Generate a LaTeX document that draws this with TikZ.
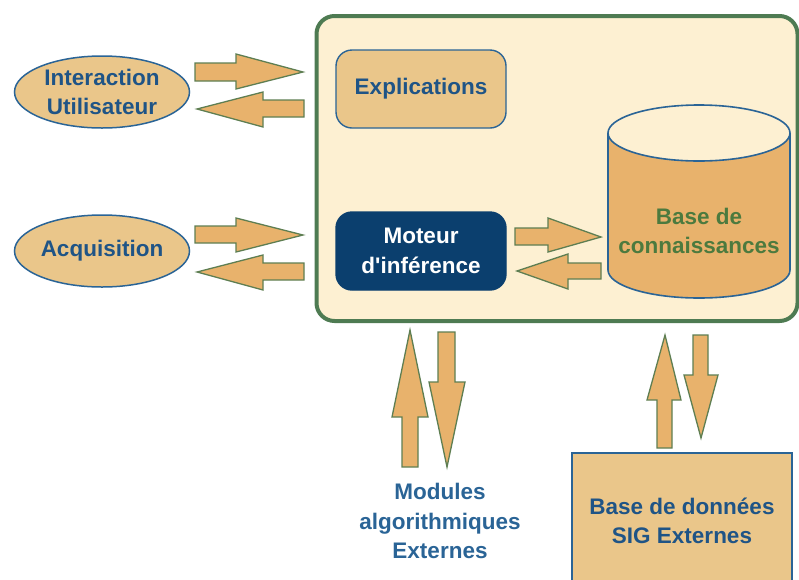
\documentclass[tikz,border=0pt]{standalone}
\usepackage{fontspec}
\setmainfont{Liberation Sans}
\usetikzlibrary{shapes.geometric}
\definecolor{boxbg}{HTML}{FDF0D2}
\definecolor{boxline}{HTML}{4E7B52}
\definecolor{tan}{HTML}{EAC68A}
\definecolor{orng}{HTML}{E8B26C}
\definecolor{navy}{HTML}{0B3F6E}
\definecolor{tblue}{HTML}{1F5486}
\definecolor{lblue}{HTML}{2A6496}
\definecolor{tgreen}{HTML}{4C7A3E}
\definecolor{arline}{HTML}{5E7E52}
\tikzset{
  txt/.style={font=\fontsize{22.5}{29.5}\selectfont\bfseries, align=center},
  ell/.style={ellipse, draw=lblue, line width=1.5pt, fill=tan, minimum width=175pt, minimum height=72pt, inner sep=0pt, txt, text=tblue},
  rbox/.style={rounded corners=16pt, draw=lblue, line width=1.4pt, minimum width=170pt, minimum height=78pt, inner sep=0pt, txt},
  barrow/.style={fill=orng, draw=arline, line width=1.3pt, line join=miter}
}
\begin{document}
\begin{tikzpicture}[x=1pt,y=-1pt]
\useasboundingbox (0,0) rectangle (799,579);
% main container
\node[draw=boxline, fill=boxbg, line width=4pt, rounded corners=18pt, minimum width=481pt, minimum height=305pt, inner sep=0pt] (main) at (557,168.5) {};
% left ellipses
\node[ell] (inter) at (102,92) {Interaction\\Utilisateur};
\node[ell] (acq) at (102,251) {Acquisition};
% inner boxes
\node[rbox, fill=tan, text=tblue] (expl) at (421,89) {Explications};
\node[rbox, fill=navy, draw=navy, text=white] (mot) at (421,251) {Moteur\\d\textquotesingle inférence};
% cylinder
\fill[orng] (608,133) -- (608,270) arc[start angle=180, end angle=0, x radius=91, y radius=28] -- (790,133) -- cycle;
\draw[lblue, line width=1.6pt] (608,133) -- (608,270) arc[start angle=180, end angle=0, x radius=91, y radius=28] -- (790,133);
\draw[lblue, line width=1.6pt, fill=boxbg] (699,133) ellipse[x radius=91, y radius=28];
\node[txt, text=tgreen] (kb) at (699,231) {Base de\\connaissances};
% bottom box
\node[draw=lblue, fill=tan, line width=2pt, minimum width=220pt, minimum height=136pt, inner sep=0pt, txt, text=tblue] (sig) at (682,521) {Base de données\\SIG Externes};
% modules label
\node[txt, text=lblue] (mods) at (440,521) {Modules\\algorithmiques\\Externes};
% block arrows
% Interaction
\draw[barrow] (195,63) -- (236,63) -- (236,54) -- (303,72) -- (236,89) -- (236,81) -- (195,81) -- cycle;
\draw[barrow] (304,100) -- (263,100) -- (263,92) -- (197,109) -- (263,127) -- (263,117) -- (304,117) -- cycle;
% Acquisition
\draw[barrow] (195,226) -- (236,226) -- (236,218) -- (303,235) -- (236,252) -- (236,243) -- (195,243) -- cycle;
\draw[barrow] (304,263) -- (263,263) -- (263,255) -- (197,272) -- (263,290) -- (263,280) -- (304,280) -- cycle;
% Moteur <-> base
\draw[barrow] (515,228) -- (548,228) -- (548,218) -- (601,237) -- (548,252) -- (548,245) -- (515,245) -- cycle;
\draw[barrow] (601,263) -- (568,263) -- (568,254) -- (517,271) -- (568,289) -- (568,279) -- (601,279) -- cycle;
% vertical: modules
\draw[barrow] (402,467) -- (402,417) -- (392,417) -- (410,330) -- (428,417) -- (418,417) -- (418,467) -- cycle;
\draw[barrow] (438,332) -- (438,382) -- (429,382) -- (447,467) -- (465,382) -- (455,382) -- (455,332) -- cycle;
% vertical: SIG
\draw[barrow] (657,448) -- (657,400) -- (647,400) -- (665,335) -- (681,400) -- (672,400) -- (672,448) -- cycle;
\draw[barrow] (693,335) -- (693,375) -- (684,375) -- (701,438) -- (718,375) -- (708,375) -- (708,335) -- cycle;
\end{tikzpicture}
\end{document}
